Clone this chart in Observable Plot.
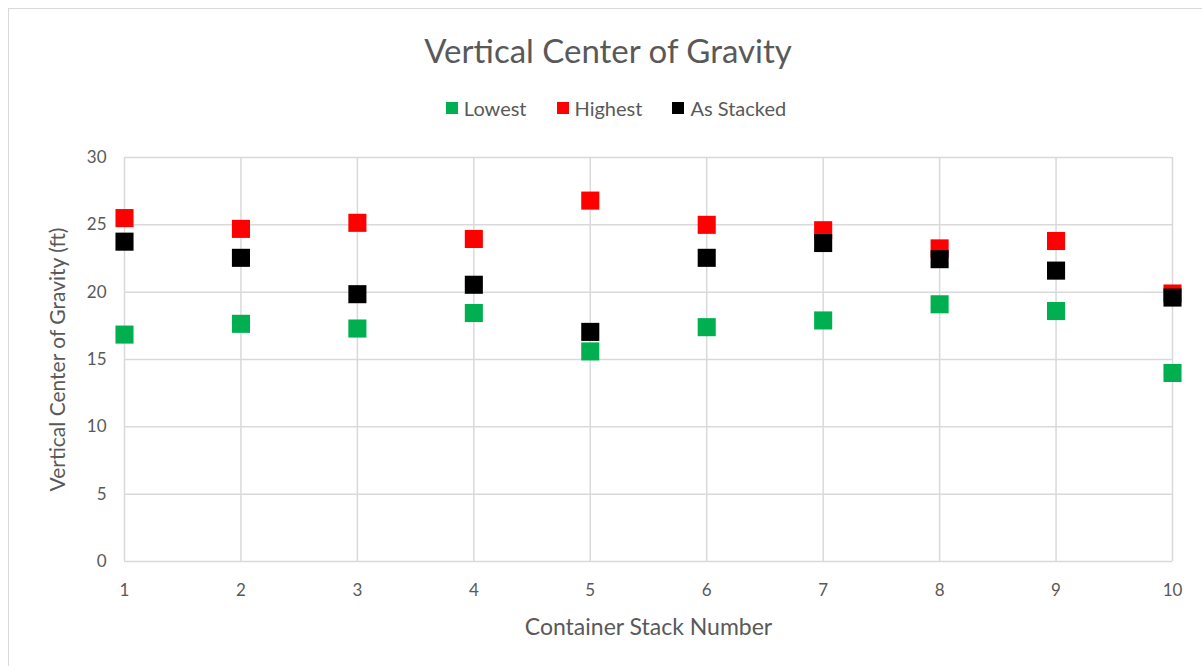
<!DOCTYPE html>
<html>
<head>
<meta charset="utf-8">
<script src="https://cdn.jsdelivr.net/npm/d3@7"></script>
<script src="https://cdn.jsdelivr.net/npm/@observablehq/plot@0.6"></script>
<style>
  html, body { margin: 0; padding: 0; background: #fff; }
  #wrap { position: relative; width: 1202px; height: 666px; overflow: hidden; font-family: Lato, "Open Sans", sans-serif; color: #595959; }
  #frame { position: absolute; left: 8px; top: 8px; width: 1200px; height: 700px; border-left: 1px solid #d9d9d9; border-top: 1px solid #d9d9d9; }
  #title { position: absolute; left: 0; width: 1216px; top: 30px; text-align: center; font-size: 33px; color: #595959; }
  #legend { position: absolute; left: 0; width: 1232px; top: 96px; display: flex; justify-content: center; gap: 30px; font-size: 20px; color: #595959; }
  #legend .item { display: flex; align-items: center; gap: 6px; }
  #legend .sw { width: 12px; height: 12px; display: inline-block; }
  #chart { position: absolute; left: 0; top: 130px; }
</style>
</head>
<body>
<div id="wrap">
  <div id="frame"></div>
  <div id="title">Vertical Center of Gravity</div>
  <div id="legend"></div>
  <div id="chart"></div>
</div>
<script>
const stacks = [1, 2, 3, 4, 5, 6, 7, 8, 9, 10];
const lowest = [16.85, 17.65, 17.3, 18.45, 15.6, 17.4, 17.9, 19.1, 18.6, 14.0];
const highest = [25.5, 24.7, 25.15, 23.95, 26.8, 25.0, 24.6, 23.25, 23.8, 19.9];
const asStacked = [23.75, 22.55, 19.85, 20.55, 17.05, 22.55, 23.65, 22.45, 21.6, 19.6];
const seriesNames = ["Lowest", "Highest", "As Stacked"];
const seriesColors = ["#00b050", "#ff0000", "#000000"];
const yTicks = [0, 5, 10, 15, 20, 25, 30];
const xLabel = "Container Stack Number";
const yLabel = "Vertical Center of Gravity (ft)";

const seriesValues = [lowest, highest, asStacked];
const data = [];
seriesNames.forEach((name, si) => {
  stacks.forEach((s, i) => data.push({series: name, stack: s, value: seriesValues[si][i]}));
});

// legend
const leg = document.getElementById("legend");
seriesNames.forEach((n, i) => {
  const it = document.createElement("div");
  it.className = "item";
  it.innerHTML = `<span class="sw" style="background:${seriesColors[i]}"></span><span>${n}</span>`;
  leg.appendChild(it);
});

const chart = Plot.plot({
  width: 1202,
  height: 530,
  marginTop: 27,
  marginBottom: 99,
  marginLeft: 124,
  marginRight: 30,
  style: {fontFamily: "Lato, 'Open Sans', sans-serif", fontSize: "17px", color: "#595959", background: "transparent"},
  x: {domain: [1, 10], label: null},
  y: {domain: [0, 30], label: null},
  color: {domain: seriesNames, range: seriesColors},
  marks: [
    Plot.gridX(stacks, {stroke: "#d9d9d9", strokeOpacity: 1, strokeWidth: 1.5}),
    Plot.gridY(yTicks, {stroke: "#d9d9d9", strokeOpacity: 1, strokeWidth: 1.5}),
    Plot.axisX(stacks, {tickSize: 0, tickPadding: 22, fontSize: 17, fill: "#595959", tickFormat: d => String(d), label: null}),
    Plot.axisY(yTicks, {tickSize: 0, tickPadding: 18, fontSize: 17, fill: "#595959", tickFormat: d => String(d), label: null}),
    Plot.text([xLabel], {frameAnchor: "bottom", dy: 66, lineAnchor: "middle", textAnchor: "middle", fontSize: 23, fill: "#595959", text: d => d}),
    Plot.text([yLabel], {frameAnchor: "left", dx: -66, rotate: -90, textAnchor: "middle", lineAnchor: "middle", fontSize: 21, fill: "#595959", text: d => d}),
    Plot.dot(data, {x: "stack", y: "value", fill: "series", symbol: "square", r: 10.2, stroke: null})
  ]
});
document.getElementById("chart").appendChild(chart);
</script>
</body>
</html>
